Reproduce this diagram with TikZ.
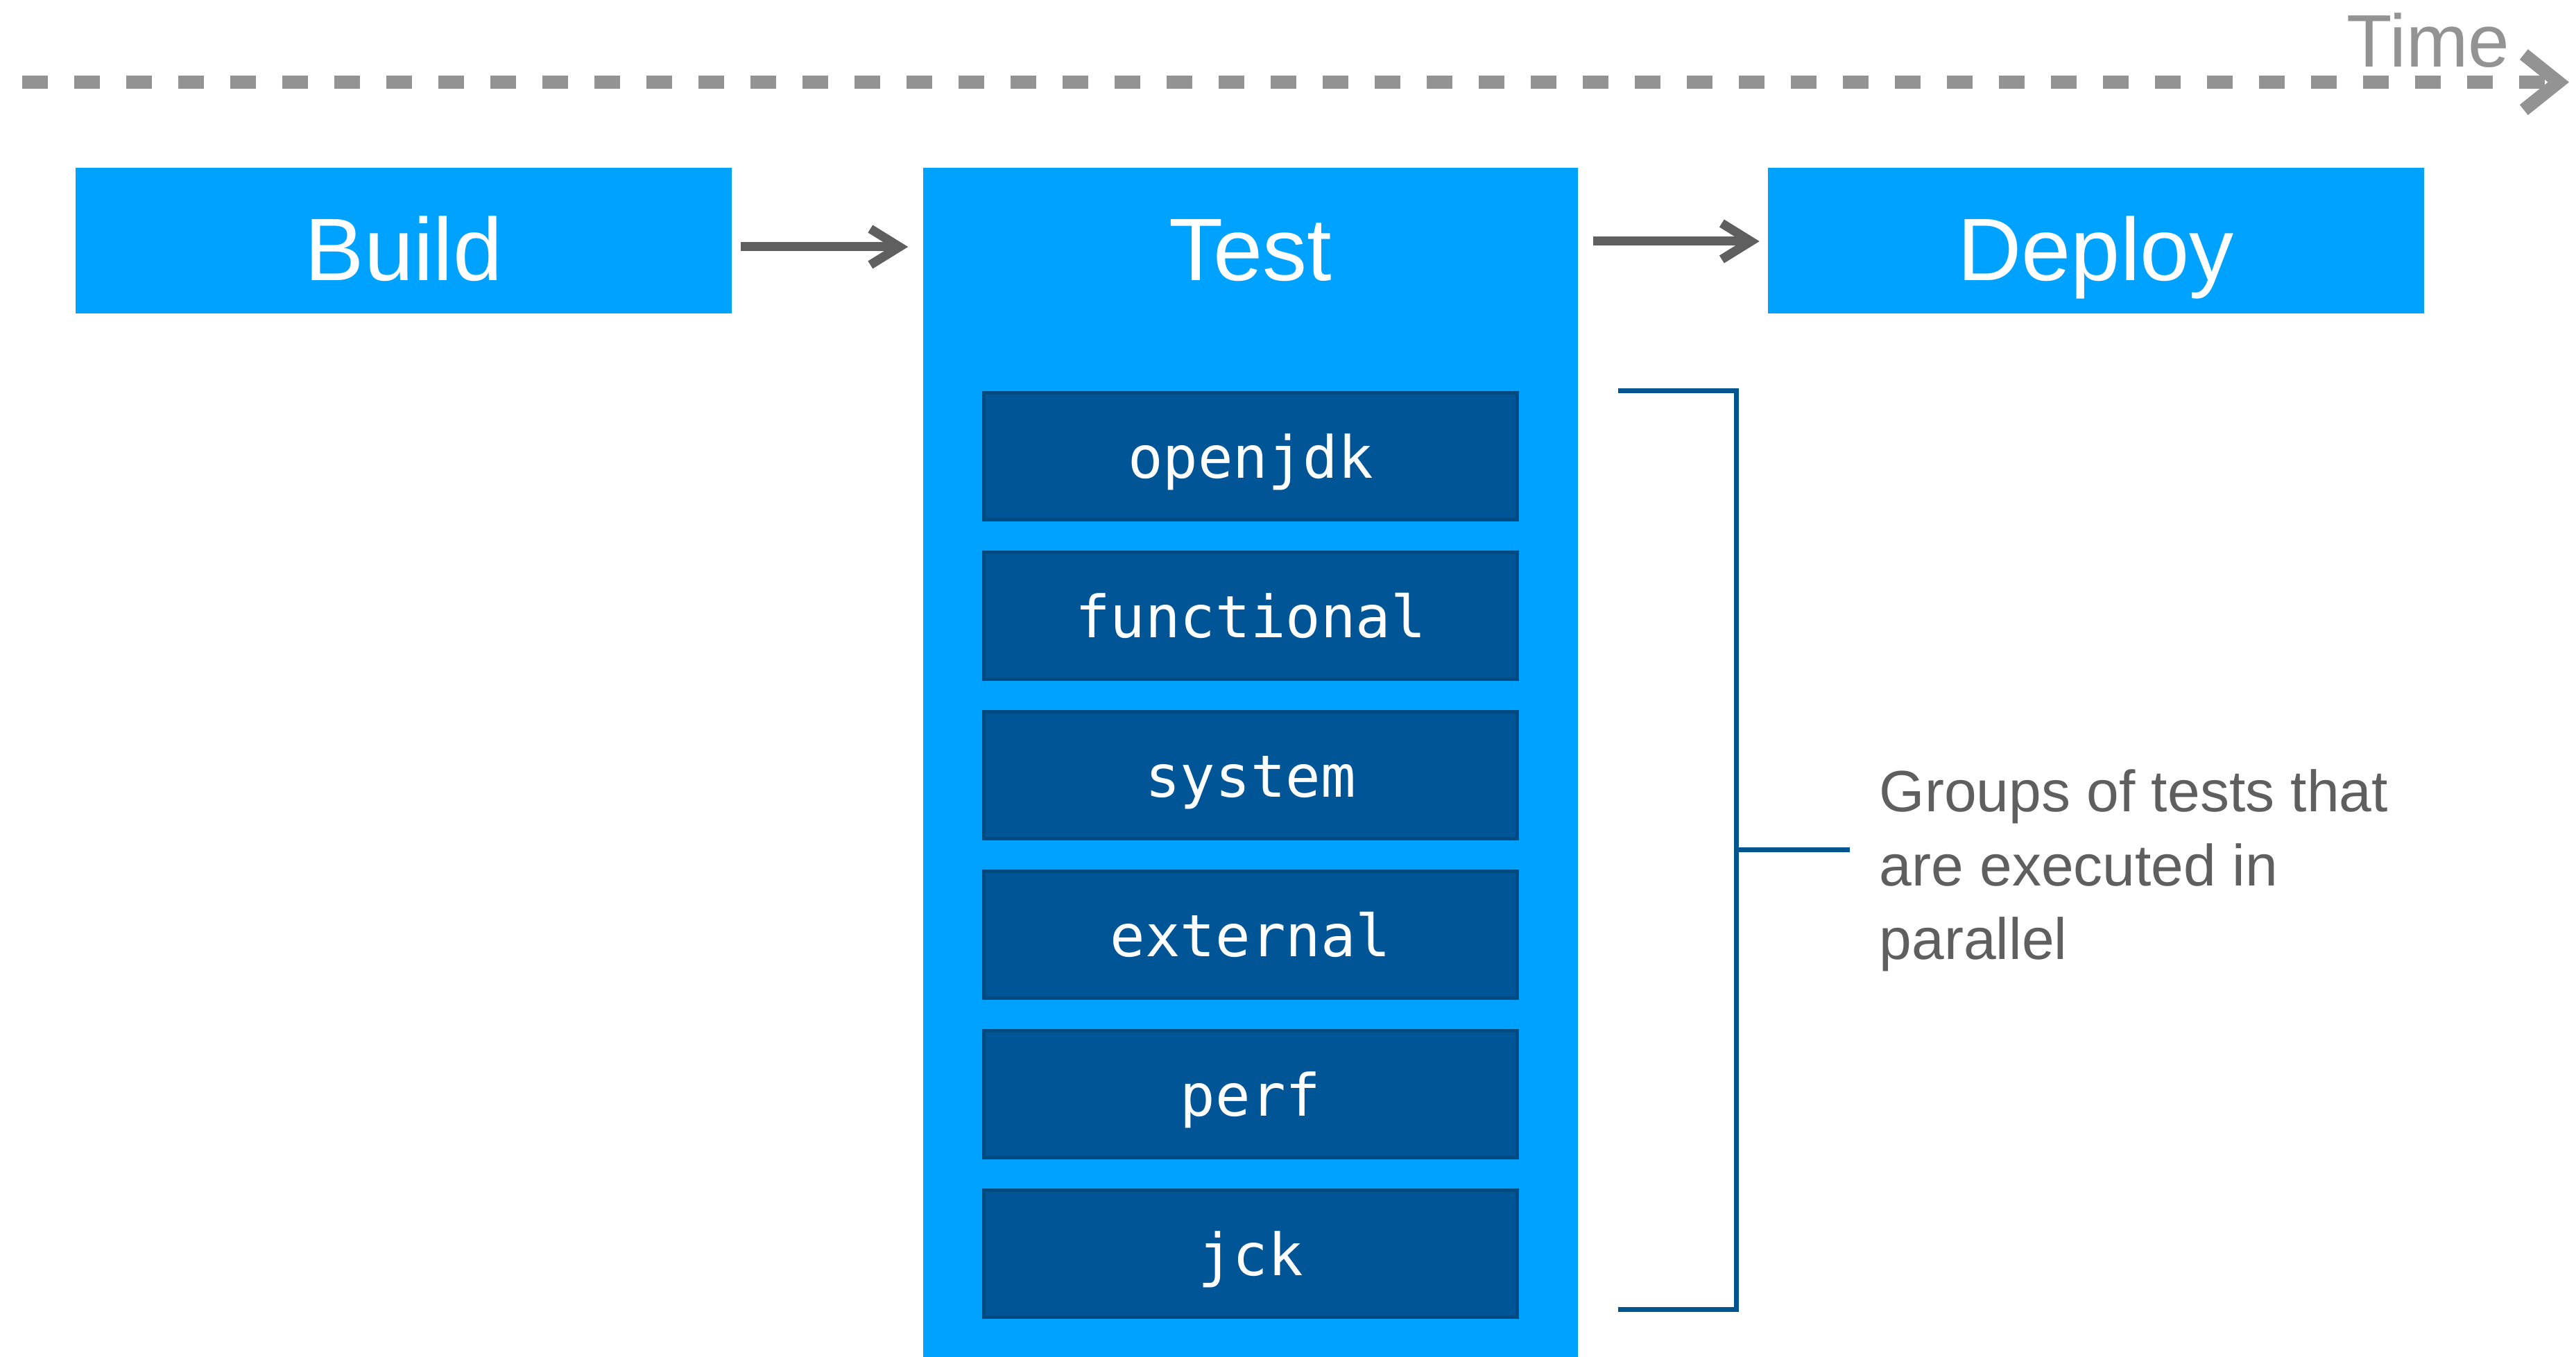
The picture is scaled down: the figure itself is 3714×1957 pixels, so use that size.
\documentclass[tikz,border=0pt]{standalone}
\usepackage{fontspec}
\setmainfont{Liberation Sans}
\newfontfamily\codefont{DejaVu Sans Mono}
\usetikzlibrary{arrows.meta}
\definecolor{skyblue}{RGB}{0,162,255}
\definecolor{navyfill}{RGB}{0,85,150}
\definecolor{navyline}{RGB}{0,74,130}
\definecolor{arrowgray}{RGB}{95,95,95}
\definecolor{timegray}{RGB}{147,147,147}
\definecolor{bracketblue}{RGB}{0,84,143}
\tikzset{
  stagebox/.style={fill=skyblue, draw=none, inner sep=0pt, text=white,
    minimum width=236.5pt, minimum height=52.5pt,
    font=\fontsize{32}{38}\selectfont, text height=29pt, text depth=0pt},
  groupbox/.style={fill=navyfill, draw=navyline, line width=1.25pt, inner sep=0pt,
    text=white, minimum width=192.25pt, minimum height=45.75pt,
    font=\codefont\fontsize{21}{25}\selectfont, text height=15.5pt, text depth=0pt},
  flowarrow/.style={draw=arrowgray, line width=3.25pt,
    -{Straight Barb[length=10.5pt, width=13pt]}},
  timearrow/.style={draw=timegray, line width=4.75pt, dash pattern=on 9.25pt off 9.5pt,
    -{Straight Barb[length=12.5pt, width=20pt]}},
  bracketline/.style={draw=bracketblue, line width=1.75pt},
  notetext/.style={anchor=base west, inner sep=0pt, text=arrowgray,
    font=\fontsize{21}{26.5}\selectfont}
}
\begin{document}
\begin{tikzpicture}[x=0.25pt, y=-0.25pt]
\useasboundingbox (0,0) rectangle (3714,1957);
\fill[white] (0,0) rectangle (3714,1957);

% time axis
\coordinate (tstart) at (32,118.5);
\coordinate (tend) at (3704,118.5);
\draw[timearrow] (tstart) -- (tend);
\node[anchor=base west, inner sep=0pt, text=timegray,
  font=\fontsize{26.8}{30}\selectfont] (time) at (3383,97) {Time};

% stages
\node[stagebox] (build) at (582,347) {Build};
\node[fill=skyblue, inner sep=0pt, minimum width=236pt, minimum height=428.75pt] (test) at (1803,1099.5) {};
\node[anchor=base, inner sep=0pt, text=white, font=\fontsize{32}{38}\selectfont] (testlbl) at (1803,405) {Test};
\node[stagebox] (deploy) at (3021.5,347) {Deploy};

% test groups
\node[groupbox] (openjdk) at (1803,658) {openjdk};
\node[groupbox] (functional) at (1803,888) {functional};
\node[groupbox] (system) at (1803,1118) {system};
\node[groupbox] (external) at (1803,1348) {external};
\node[groupbox] (perf) at (1803,1578) {perf};
\node[groupbox] (jck) at (1803,1808) {jck};

% flow arrows
\draw[flowarrow] ([xshift=3pt,yshift=-2.25pt]build.east) -- ([xshift=-5.25pt,yshift=-2.25pt]build.east -| test.west);
\draw[flowarrow] ([xshift=5.25pt,yshift=-0.25pt]deploy.west -| test.east) -- ([xshift=-2.75pt,yshift=-0.25pt]deploy.west);

% bracket
\coordinate (b1) at (2333,564);
\coordinate (b2) at (2503,564);
\coordinate (b3) at (2503,1888);
\coordinate (b4) at (2333,1888);
\coordinate (bm) at (2503,1225);
\coordinate (bt) at (2667,1225);
\draw[bracketline] (b1) -- (b2) -- (b3) -- (b4);
\draw[bracketline] (bm) -- (bt);

% note
\node[notetext] (note1) at (2709,1170) {Groups of tests that};
\node[notetext] (note2) at (2709,1277) {are executed in};
\node[notetext] (note3) at (2709,1383) {parallel};
\end{tikzpicture}
\end{document}
